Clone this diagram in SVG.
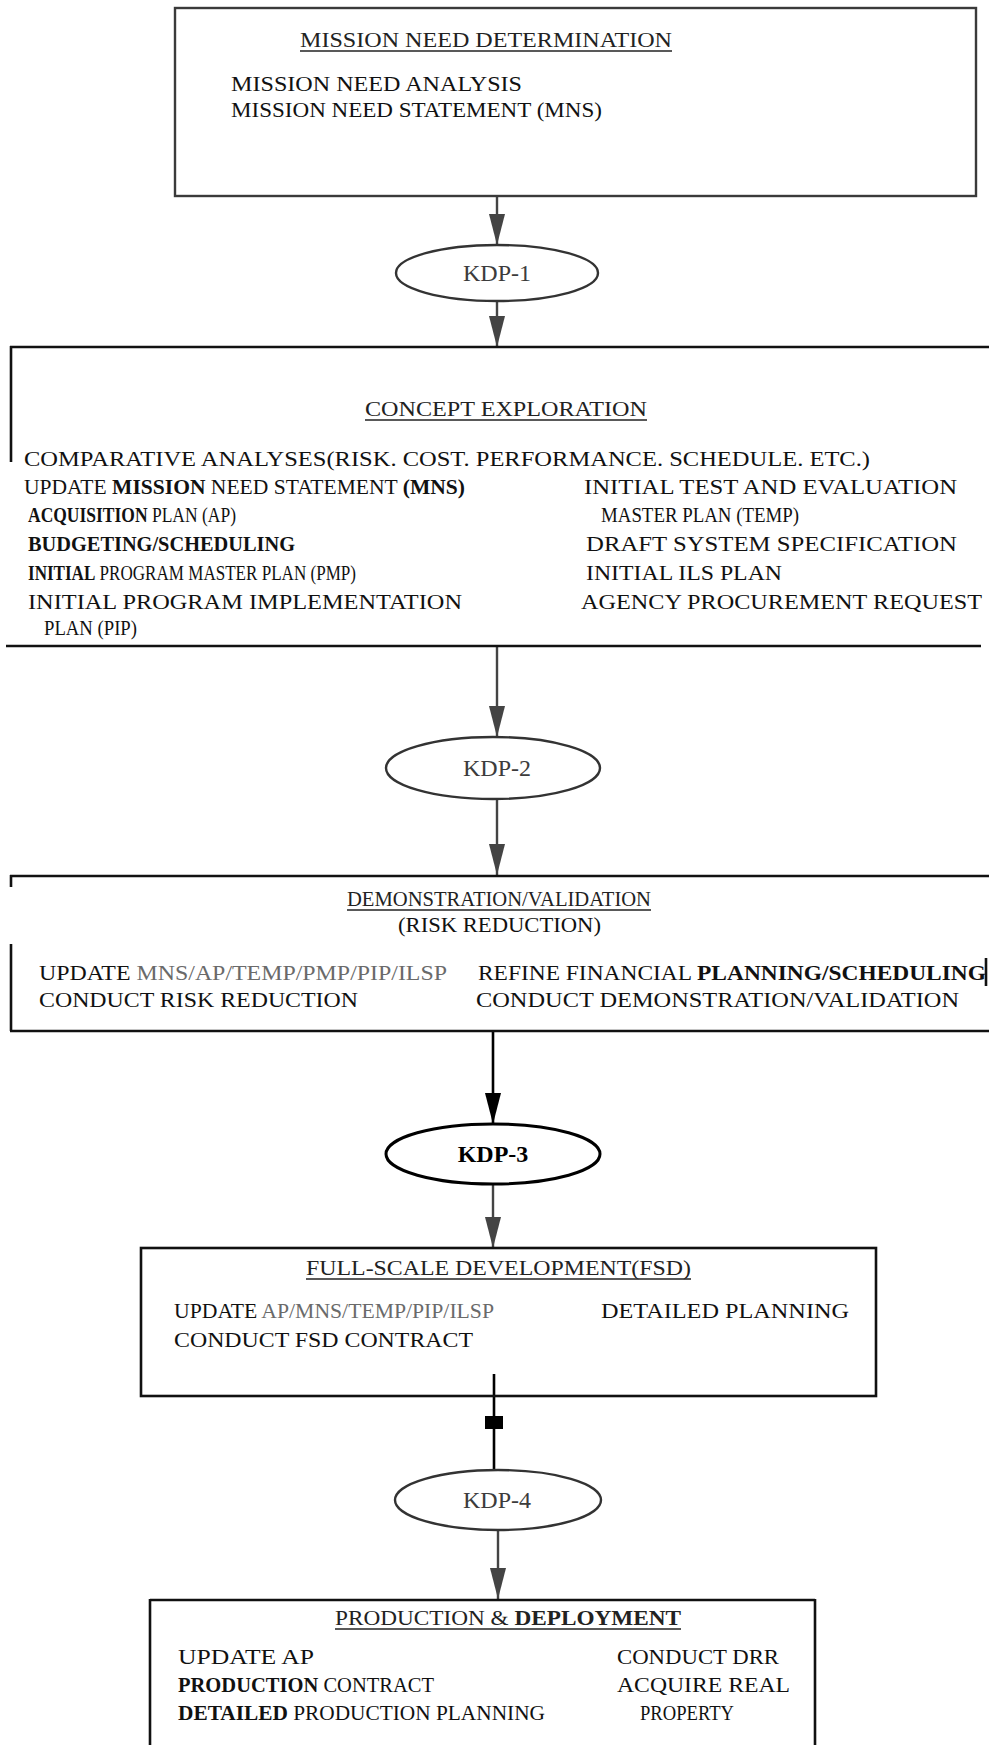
<svg xmlns="http://www.w3.org/2000/svg" width="989" height="1745" viewBox="0 0 989 1745">
  <style>
    .t { font-family: "Liberation Serif", "Times New Roman", serif; font-size: 22px; fill: #111; }
    .ttl { font-family: "Liberation Serif", "Times New Roman", serif; font-size: 22px; fill: #222; }
    .b { font-weight: bold; }
    .g { fill: #6a6a6a; }
    .kdp { font-family: "Liberation Serif", "Times New Roman", serif; font-size: 24px; fill: #3c3c3c; text-anchor: middle; }
    .kdpb { font-family: "Liberation Serif", "Times New Roman", serif; font-size: 24px; font-weight: bold; fill: #000; text-anchor: middle; }
    .frame { fill: none; stroke: #111; stroke-width: 2.6; }
    .frame1 { fill: none; stroke: #3a3a3a; stroke-width: 2.4; }
    .ul { stroke: #222; stroke-width: 1.6; }
    .ell { fill: none; stroke: #333; stroke-width: 2.4; }
    .ellb { fill: none; stroke: #000; stroke-width: 3; }
    .conn { stroke: #444; stroke-width: 2.4; fill: none; }
    .connb { stroke: #000; stroke-width: 2.6; fill: none; }
  </style>
  <defs>
    <marker id="head" markerUnits="userSpaceOnUse" viewBox="0 -9 32 18" refX="31" refY="0" markerWidth="32" markerHeight="18" orient="auto">
      <path d="M0,-8 L31,0 L0,8 z" fill="#444"/>
    </marker>
    <marker id="headb" markerUnits="userSpaceOnUse" viewBox="0 -9 32 18" refX="31" refY="0" markerWidth="32" markerHeight="18" orient="auto">
      <path d="M0,-8 L31,0 L0,8 z" fill="#000"/>
    </marker>
  </defs>
  <rect width="989" height="1745" fill="#fff"/>

  <!-- connectors -->
  <g id="connectors">
    <line class="conn" x1="497" y1="196" x2="497" y2="245" marker-end="url(#head)"/>
    <line class="conn" x1="497" y1="301" x2="497" y2="347" marker-end="url(#head)"/>
    <line class="conn" x1="497" y1="647" x2="497" y2="737" marker-end="url(#head)"/>
    <line class="conn" x1="497" y1="799" x2="497" y2="875" marker-end="url(#head)"/>
    <line class="connb" x1="493" y1="1031" x2="493" y2="1124" marker-end="url(#headb)"/>
    <line class="conn" x1="493" y1="1184" x2="493" y2="1248" marker-end="url(#head)"/>
    <line class="connb" x1="494" y1="1374" x2="494" y2="1470"/>
    <rect x="485" y="1416" width="18" height="13" fill="#000"/>
    <line class="conn" x1="498" y1="1530" x2="498" y2="1599" marker-end="url(#head)"/>
  </g>

  <!-- mission need determination -->
  <g id="mission-need">
    <rect class="frame1" x="175" y="8" width="801" height="188"/>
    <text class="ttl" x="300" y="47" textLength="372" lengthAdjust="spacingAndGlyphs">MISSION NEED DETERMINATION</text>
    <line class="ul" x1="300" y1="51" x2="672" y2="51"/>
    <text class="t" x="231" y="91" textLength="291" lengthAdjust="spacingAndGlyphs">MISSION NEED ANALYSIS</text>
    <text class="t" x="231" y="117" textLength="371" lengthAdjust="spacingAndGlyphs">MISSION NEED STATEMENT (MNS)</text>
  </g>

  <g id="kdp-1">
    <ellipse class="ell" cx="497" cy="273" rx="101" ry="28"/>
    <text class="kdp" x="497" y="281">KDP-1</text>
  </g>

  <!-- concept exploration -->
  <g id="concept-exploration">
    <line class="frame" x1="10" y1="347" x2="989" y2="347"/>
    <line class="frame" x1="11" y1="346" x2="11" y2="462"/>
    <line class="frame" x1="6" y1="646" x2="981" y2="646"/>
    <text class="ttl" x="365" y="416" textLength="282" lengthAdjust="spacingAndGlyphs">CONCEPT EXPLORATION</text>
    <line class="ul" x1="365" y1="420" x2="647" y2="420"/>
    <text class="t" x="24" y="466" textLength="846" lengthAdjust="spacingAndGlyphs">COMPARATIVE ANALYSES(RISK. COST. PERFORMANCE. SCHEDULE. ETC.)</text>
    <text class="t" x="24" y="494" textLength="441" lengthAdjust="spacingAndGlyphs">UPDATE <tspan class="b">MISSION</tspan> NEED STATEMENT <tspan class="b">(MNS)</tspan></text>
    <text class="t" x="28" y="522" textLength="208" lengthAdjust="spacingAndGlyphs"><tspan class="b">ACQUISITION</tspan> PLAN (AP)</text>
    <text class="t" x="28" y="551" textLength="267" lengthAdjust="spacingAndGlyphs"><tspan class="b">BUDGETING/SCHEDULING</tspan></text>
    <text class="t" x="28" y="580" textLength="328" lengthAdjust="spacingAndGlyphs"><tspan class="b">INITIAL</tspan> PROGRAM MASTER PLAN (PMP)</text>
    <text class="t" x="28" y="609" textLength="434" lengthAdjust="spacingAndGlyphs">INITIAL PROGRAM IMPLEMENTATION</text>
    <text class="t" x="44" y="635" textLength="93" lengthAdjust="spacingAndGlyphs">PLAN (PIP)</text>
    <text class="t" x="584" y="494" textLength="373" lengthAdjust="spacingAndGlyphs">INITIAL TEST AND EVALUATION</text>
    <text class="t" x="601" y="522" textLength="198" lengthAdjust="spacingAndGlyphs">MASTER PLAN (TEMP)</text>
    <text class="t" x="586" y="551" textLength="371" lengthAdjust="spacingAndGlyphs">DRAFT SYSTEM SPECIFICATION</text>
    <text class="t" x="586" y="580" textLength="196" lengthAdjust="spacingAndGlyphs">INITIAL ILS PLAN</text>
    <text class="t" x="581" y="609" textLength="401" lengthAdjust="spacingAndGlyphs">AGENCY PROCUREMENT REQUEST</text>
  </g>

  <g id="kdp-2">
    <ellipse class="ell" cx="493" cy="768" rx="107" ry="31"/>
    <text class="kdp" x="497" y="776">KDP-2</text>
  </g>

  <!-- demonstration / validation -->
  <g id="demonstration-validation">
    <line class="frame" x1="10" y1="876" x2="989" y2="876"/>
    <line class="frame" x1="11" y1="875" x2="11" y2="887"/>
    <line class="frame" x1="11" y1="944" x2="11" y2="1031"/>
    <line class="frame" x1="986" y1="958" x2="986" y2="986"/>
    <line class="frame" x1="10" y1="1031" x2="989" y2="1031"/>
    <text class="ttl" x="347" y="906" textLength="304" lengthAdjust="spacingAndGlyphs">DEMONSTRATION/VALIDATION</text>
    <line class="ul" x1="347" y1="910" x2="651" y2="910"/>
    <text class="t" x="398" y="932" textLength="203" lengthAdjust="spacingAndGlyphs">(RISK REDUCTION)</text>
    <text class="t" x="39" y="980" textLength="408" lengthAdjust="spacingAndGlyphs">UPDATE <tspan class="g">MNS/AP/TEMP/PMP/PIP/ILSP</tspan></text>
    <text class="t" x="478" y="980" textLength="508" lengthAdjust="spacingAndGlyphs">REFINE FINANCIAL <tspan class="b">PLANNING/SCHEDULING</tspan></text>
    <text class="t" x="39" y="1007" textLength="319" lengthAdjust="spacingAndGlyphs">CONDUCT RISK REDUCTION</text>
    <text class="t" x="476" y="1007" textLength="483" lengthAdjust="spacingAndGlyphs">CONDUCT DEMONSTRATION/VALIDATION</text>
  </g>

  <g id="kdp-3">
    <ellipse class="ellb" cx="493" cy="1154" rx="107" ry="30"/>
    <text class="kdpb" x="493" y="1162">KDP-3</text>
  </g>

  <!-- full-scale development -->
  <g id="full-scale-development">
    <rect class="frame" x="141" y="1248" width="735" height="148"/>
    <text class="ttl" x="306" y="1275" textLength="385" lengthAdjust="spacingAndGlyphs">FULL-SCALE DEVELOPMENT(FSD)</text>
    <line class="ul" x1="306" y1="1279" x2="691" y2="1279"/>
    <text class="t" x="174" y="1318" textLength="320" lengthAdjust="spacingAndGlyphs">UPDATE <tspan class="g">AP/MNS/TEMP/PIP/ILSP</tspan></text>
    <text class="t" x="174" y="1347" textLength="299" lengthAdjust="spacingAndGlyphs">CONDUCT FSD CONTRACT</text>
    <text class="t" x="601" y="1318" textLength="248" lengthAdjust="spacingAndGlyphs">DETAILED PLANNING</text>
  </g>

  <g id="kdp-4">
    <ellipse class="ell" cx="498" cy="1500" rx="103" ry="30"/>
    <text class="kdp" x="497" y="1508">KDP-4</text>
  </g>

  <!-- production and deployment -->
  <g id="production-deployment">
    <line class="frame" x1="150" y1="1600" x2="815" y2="1600"/>
    <line class="frame" x1="150" y1="1599" x2="150" y2="1745"/>
    <line class="frame" x1="815" y1="1599" x2="815" y2="1745"/>
    <text class="ttl" x="335" y="1625" textLength="346" lengthAdjust="spacingAndGlyphs">PRODUCTION &amp; <tspan font-weight="bold">DEPLOYMENT</tspan></text>
    <line class="ul" x1="335" y1="1629" x2="681" y2="1629"/>
    <text class="t" x="178" y="1664" textLength="136" lengthAdjust="spacingAndGlyphs">UPDATE AP</text>
    <text class="t" x="178" y="1692" textLength="256" lengthAdjust="spacingAndGlyphs"><tspan class="b">PRODUCTION</tspan> CONTRACT</text>
    <text class="t" x="178" y="1720" textLength="367" lengthAdjust="spacingAndGlyphs"><tspan class="b">DETAILED</tspan> PRODUCTION PLANNING</text>
    <text class="t" x="617" y="1664" textLength="162" lengthAdjust="spacingAndGlyphs">CONDUCT DRR</text>
    <text class="t" x="617" y="1692" textLength="173" lengthAdjust="spacingAndGlyphs">ACQUIRE REAL</text>
    <text class="t" x="640" y="1720" textLength="94" lengthAdjust="spacingAndGlyphs">PROPERTY</text>
  </g>
</svg>
